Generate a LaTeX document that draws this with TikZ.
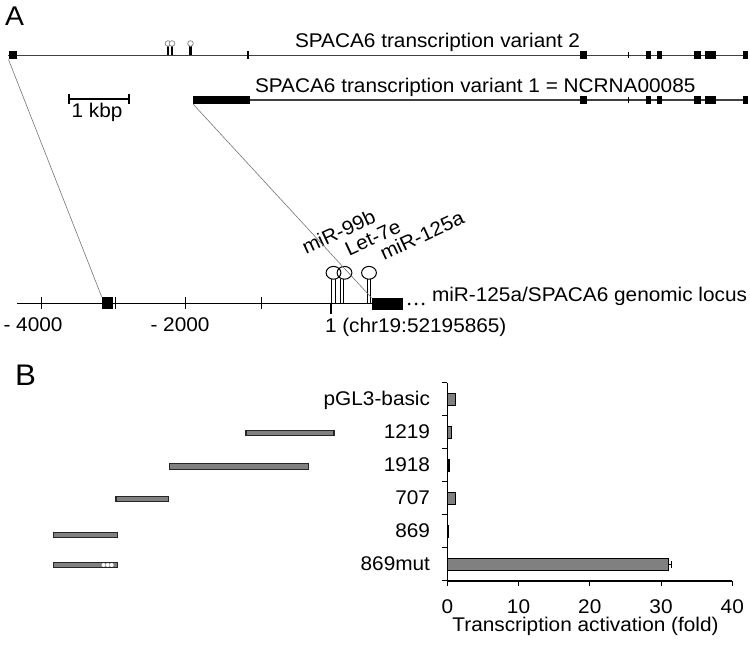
\documentclass[tikz,border=0pt]{standalone}
\usepackage{fontspec}
\setmainfont{Liberation Sans}[FakeStretch=1.05]
\usepackage{tikz}

\begin{document}
\begin{tikzpicture}
  [x=0.5pt,y=-0.5pt,every node/.style={inner sep=0pt,outer sep=0pt},
   lbl/.style={font=\fontsize{9.9}{12}\selectfont},
   exon/.style={fill=black,draw=none,rectangle},
   strand/.style={draw=black!75,line width=0.7pt},
   guide/.style={draw=black!55,line width=0.3pt},
   loop/.style={draw=black,line width=0.5pt},
   construct/.style={draw=black!85,fill=black!50,line width=0.6pt},
   foldbar/.style={draw=black,fill=black!50,line width=0.6pt}]
  \useasboundingbox (0,0) rectangle (750,646);

  \node [anchor=base west,font=\fontsize{13.5}{14}\selectfont] (pa) at (5,26) {A};
  \node [anchor=base west,font=\fontsize{14.9}{15}\selectfont] (pb) at (15,385.7) {B};

  \draw [strand] (8,55.5) -- (748,55.5);
  \draw [strand] (193,100) -- (748,100);
  \node [exon,minimum width=4pt,minimum height=4pt] (v2x1) at (12.5,55.5) {};
  \node [exon,minimum width=1.3pt,minimum height=4pt] (v2x2) at (248,55.5) {};
  \node [exon,minimum width=28.5pt,minimum height=4pt] (v1x1) at (221.5,100) {};
  \foreach \y in {55.5,100} {
    \foreach \a/\b in {580/587,646/651,657/662,694/701,705/716,743/748}
      \fill (\a,\y-4) rectangle (\b,\y+4);
    \draw [line width=0.5pt] (628,\y-3) -- (628,\y+3);
  }
  \foreach \c in {168,172,190.5} {
    \draw [line width=1.2pt] (\c,55) -- (\c,46);
    \draw [draw=black!45,fill=white,line width=0.4pt] (\c,43.5) circle (1.4pt);
  }
  \node [lbl,anchor=base west] (v2lbl) at (295,48) {SPACA6 transcription variant 2};
  \node [lbl,anchor=base west] (v1lbl) at (255,93) {SPACA6 transcription variant 1 = NCRNA00085};

  \draw [line width=0.6pt] (69,99) -- (129,99);
  \draw [line width=0.6pt] (69,94) -- (69,104);
  \draw [line width=0.6pt] (129,94) -- (129,104);
  \node [lbl] (kbp) at (97,112) {1 kbp};

  \draw [line width=0.8pt] (17,303.5) -- (372,303.5);
  \foreach \t in {41.7,115,185.7,261}
    \draw [line width=0.5pt] (\t,297) -- (\t,309);
  \draw [line width=1pt] (331,303) -- (331,314);
  \node [exon,minimum width=5.8pt,minimum height=6.2pt] (locx1) at (107.5,303) {};
  \node [exon,minimum width=15.5pt,minimum height=6.2pt] (locx2) at (387,304) {};
  \foreach \d in {409,416,423}
    \fill (\d,304) circle (0.75pt);

  \foreach \a/\b in {331.7/335.3,340.5/343.5,367.3/370.7} {
    \draw [line width=0.6pt] (\a,279) -- (\a,303);
    \draw [line width=0.6pt] (\b,279) -- (\b,303);
  }
  \foreach \c in {333.5,344.5,369}
    \draw [loop] (\c,272.8) ellipse (3.7pt and 3.2pt);

  \node [lbl,anchor=base west,rotate=25] (mir99) at (306,255) {miR-99b};
  \node [lbl,anchor=base west,rotate=25] (let7) at (349,256.5) {Let-7e};
  \node [lbl,anchor=base west,rotate=25] (mir125) at (384,261) {miR-125a};
  \node [lbl,anchor=base west] (locus) at (432,302) {miR-125a/SPACA6 genomic locus};
  \node [lbl,anchor=base] (m4000) at (33,332) {- 4000};
  \node [lbl,anchor=base] (m2000) at (180,332) {- 2000};
  \node [lbl,anchor=base west] (chr) at (325,333) {1 (chr19:52195865)};

  \foreach \from/\to in {v2x1.south west/locx1.north west,v1x1.south west/locx2.north west}
    \draw [guide] (\from) -- (\to);

  \foreach \a/\b/\y in {246/334/433,169.3/308.3/466.7,116/168.3/499,53.3/117.3/535,53.3/117.3/565}
    \draw [construct] (\a,\y-2.8) rectangle (\b,\y+2.8);
  \foreach \d in {103.5,107.7,111.7}
    \fill [white] (\d,565) circle (1pt);

  \draw [line width=0.6pt] (447.3,383) -- (447.3,581) -- (732.3,581);
  \foreach \y in {383,416,449,482,515,548,581}
    \draw [line width=0.5pt] (442,\y) -- (447.3,\y);
  \foreach \v in {0,10,20,30,40} {
    \draw [line width=0.5pt] (447.3+7.125*\v,581) -- (447.3+7.125*\v,586);
    \node [lbl,anchor=base] (t\v) at (447.3+7.125*\v,613) {\v};
  }
  \foreach \n/\c/\v in {pGL3-basic/399.5/1.1,1219/432.5/0.6,1918/465.5/0.25,707/498.5/1.2,869/531.5/0.12,869mut/564.5/31.0} {
    \node [lbl,anchor=base east] (c\n) at (430,\c+6.5) {\n};
    \draw [foldbar] (447.3,\c-6) rectangle (447.3+7.125*\v,\c+6);
  }
  \draw [line width=0.6pt] (668,564.5) -- (671.5,564.5);
  \draw [line width=0.6pt] (671.5,561) -- (671.5,568);
  \node [lbl,anchor=base] (xlab) at (585.5,632) {Transcription activation (fold)};

\end{tikzpicture}
\end{document}
